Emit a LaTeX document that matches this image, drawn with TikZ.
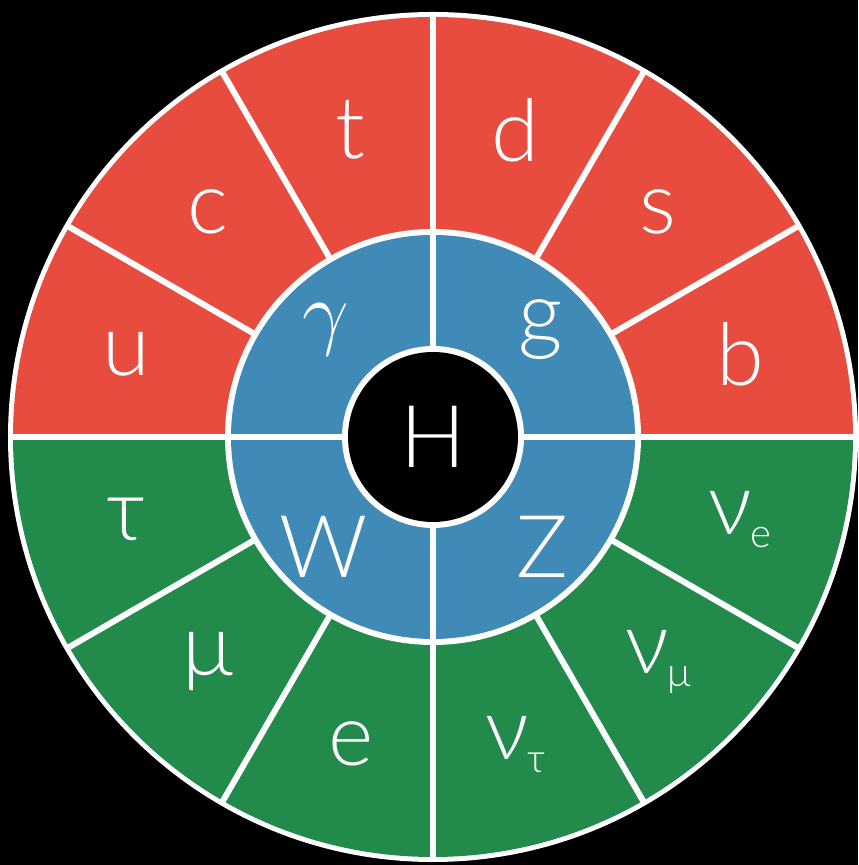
\documentclass[tikz,border=0pt]{standalone}
\usepackage{fontspec}
\setmainfont{Lato Light}
\usetikzlibrary{positioning}
\definecolor{quarkred}{HTML}{E84C3F}
\definecolor{leptongreen}{HTML}{228B4C}
\definecolor{bosonblue}{HTML}{3F8AB6}
\newcommand{\nusub}[1]{ν\kern-0.5pt\raisebox{-0.3ex}{\fontsize{12}{13}\selectfont #1}}

\begin{document}
\begin{tikzpicture}[x=0.3pt,y=0.3pt,
 lbl/.style={text=white,font=\fontsize{26}{30}\selectfont,inner sep=0pt},
 sep/.style={draw=white,line width=1.8pt}]
\fill[black] (0,0) rectangle (858,865);
\useasboundingbox (0,0) rectangle (858,865);
\begin{scope}[shift={(433,428)}]
% rings
\fill[white] (0,0) circle (425);
\fill[quarkred] (0:420) arc (0:180:420) -- cycle;
\fill[leptongreen] (180:420) arc (180:360:420) -- cycle;
\fill[white] (0,0) circle (208);
\fill[bosonblue] (0,0) circle (202);
\fill[white] (0,0) circle (91);
\fill[black] (0,0) circle (85);
% separators
\foreach \a in {30,60,120,150,210,240,300,330}
  \draw[sep] (\a:205) -- (\a:422);
\foreach \a in {0,90,180,270}
  \draw[sep] (\a:88) -- (\a:422);
% quarks
\node[lbl] (u) at (165:318) {u};
\node[lbl] (c) at (135:318) {c};
\node[lbl] (t) at (105:318) {t};
\node[lbl] (d) at (75:318) {d};
\node[lbl] (s) at (45:318) {s};
\node[lbl] (b) at (15:318) {b};
% leptons
\node[lbl] (tau) at (195:318) {τ};
\node[lbl] (mu) at (225:318) {μ};
\node[lbl] (e) at (255:318) {e};
\node[lbl] (nutau) at (285:318) {\nusub{τ}};
\node[lbl] (numu) at (315:318) {\nusub{μ}};
\node[lbl] (nue) at (345:318) {\nusub{e}};
% bosons
\node[lbl] (gamma) at (135:152) {$\gamma$};
\node[lbl] (g) at (45:152) {g};
\node[lbl] (W) at (225:155) {W};
\node[lbl] (Z) at (315:155) {Z};
\node[lbl] (H) at (0,0) {H};
\end{scope}
\end{tikzpicture}
\end{document}
